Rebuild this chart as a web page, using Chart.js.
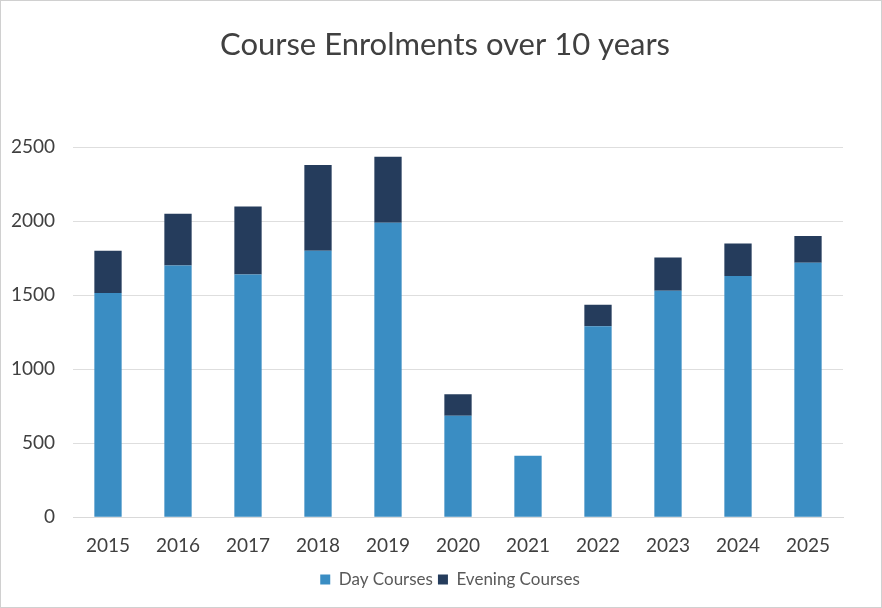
<!DOCTYPE html>
<html>
<head>
<meta charset="utf-8">
<script src="https://cdn.jsdelivr.net/npm/chart.js@4"></script>
<style>
  html, body { margin: 0; padding: 0; background: #fff; }
  .box { width: 880px; height: 606px; border: 1px solid #d0d0d0; }
</style>
</head>
<body>
<div class="box"><canvas id="myChart" width="880" height="606"></canvas></div>
<script>
const years = ["2015", "2016", "2017", "2018", "2019", "2020", "2021", "2022", "2023", "2024", "2025"];
const dayCourses = [1515, 1700, 1640, 1800, 1990, 685, 415, 1290, 1530, 1630, 1720];
const eveningCourses = [285, 350, 460, 580, 445, 145, 0, 145, 225, 220, 180];
const yTicks = [0, 500, 1000, 1500, 2000, 2500];

// title and legend sit a bit right of the canvas centre in the original
const shiftBoxes = {
  id: "shiftBoxes",
  afterLayout(chart) {
    if (chart.titleBlock) chart.titleBlock.left += 40;
    if (chart.legend) chart.legend.left += 50;
  },
};

const ctx = document.getElementById("myChart");
new Chart(ctx, {
  type: "bar",
  data: {
    labels: years,
    datasets: [
      {
        label: "Day Courses",
        data: dayCourses,
        backgroundColor: "#3a8dc3",
        categoryPercentage: 0.78,
        barPercentage: 0.5,
      },
      {
        label: "Evening Courses",
        data: eveningCourses,
        backgroundColor: "#253c5c",
        categoryPercentage: 0.78,
        barPercentage: 0.5,
      },
    ],
  },
  options: {
    responsive: false,
    animation: false,
    layout: { padding: { left: 6, right: 38, top: 0, bottom: 9 } },
    plugins: {
      title: {
        display: true,
        text: "Course Enrolments over 10 years",
        color: "#404040",
        font: { family: "Lato", size: 31, weight: "normal" },
        padding: { top: 25, bottom: 84 },
      },
      legend: {
        position: "bottom",
        labels: {
          color: "#595959",
          font: { family: "Lato", size: 17 },
          boxWidth: 10,
          boxHeight: 10,
          padding: 5,
        },
      },
      tooltip: { enabled: false },
    },
    scales: {
      x: {
        stacked: true,
        grid: { display: false },
        border: { color: "#d9d9d9" },
        ticks: { color: "#404040", font: { family: "Lato", size: 19 }, padding: 9 },
      },
      y: {
        stacked: true,
        min: 0,
        max: 2500,
        afterBuildTicks: (axis) => {
          axis.ticks = yTicks.map((v) => ({ value: v }));
        },
        afterFit: (axis) => {
          axis.width = 66;
        },
        grid: { color: "#dedede", drawTicks: false },
        border: { display: false },
        ticks: {
          color: "#404040",
          font: { family: "Lato", size: 19 },
          padding: 18,
          callback: (value) => String(value),
        },
      },
    },
  },
  plugins: [shiftBoxes],
});
</script>
</body>
</html>
